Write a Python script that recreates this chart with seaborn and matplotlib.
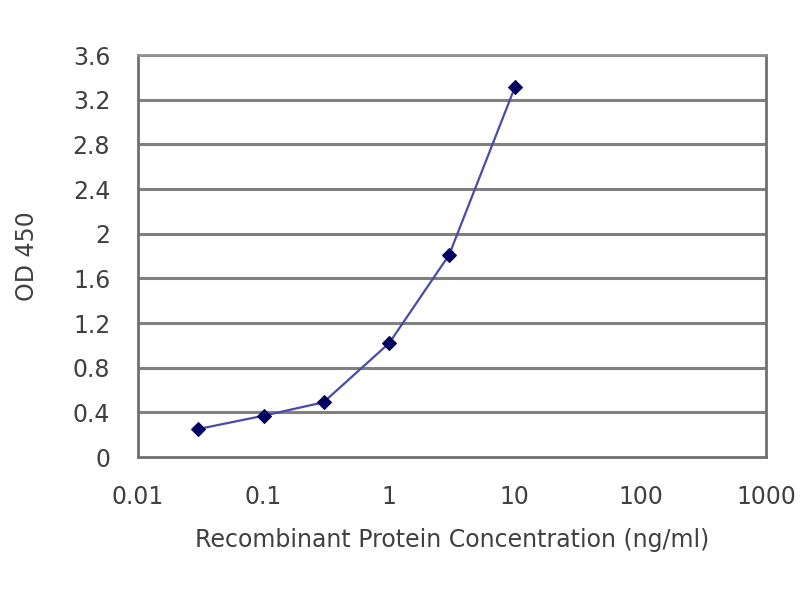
import matplotlib
matplotlib.use("Agg")
import matplotlib.pyplot as plt
import seaborn as sns
import pandas as pd
from matplotlib.ticker import FixedLocator, FixedFormatter, NullLocator

# readings from the standard curve
conc = [0.03, 0.1, 0.3, 1, 3, 10]
od450 = [0.25, 0.37, 0.49, 1.02, 1.81, 3.31]
x_ticks = [0.01, 0.1, 1, 10, 100, 1000]
x_labels = ["0.01", "0.1", "1", "10", "100", "1000"]
y_ticks = [0, 0.4, 0.8, 1.2, 1.6, 2, 2.4, 2.8, 3.2, 3.6]
y_labels = ["0", "0.4", "0.8", "1.2", "1.6", "2", "2.4", "2.8", "3.2", "3.6"]

df = pd.DataFrame({"conc": conc, "od": od450})

sns.set_style("white")
plt.rcParams["font.family"] = ["DejaVu Sans"]

fig = plt.figure(figsize=(8, 6), dpi=100)
ax = fig.add_axes([0.1725, 0.2383, 0.785, 0.67])

# grid lines
for y in y_ticks[1:]:
    ax.axhline(y, color="#808080", lw=2.2, zorder=1)

sns.lineplot(data=df, x="conc", y="od", ax=ax, color="#4a4aa8", lw=1.6,
             marker="D", markersize=7.5, markerfacecolor="#000060",
             markeredgecolor="#000060", zorder=3)

ax.set_xscale("log")
ax.set_xlim(0.01, 1000)
ax.set_ylim(0, 3.6)
ax.xaxis.set_major_locator(FixedLocator(x_ticks))
ax.xaxis.set_major_formatter(FixedFormatter(x_labels))
ax.xaxis.set_minor_locator(NullLocator())
ax.yaxis.set_major_locator(FixedLocator(y_ticks))
ax.yaxis.set_major_formatter(FixedFormatter(y_labels))

for s in ax.spines.values():
    s.set_color("#707070")
    s.set_linewidth(2)
ax.spines["top"].set_color("#909090")

ax.tick_params(axis="x", direction="in", length=5, width=1.5, color="#707070",
               labelsize=17, labelcolor="#404040", pad=20)
ax.tick_params(axis="y", direction="out", length=4, width=1.5, color="#707070",
               labelsize=17, labelcolor="#404040", pad=16)

ax.set_xlabel("Recombinant Protein Concentration (ng/ml)", fontsize=17,
              color="#404040", labelpad=14)
ax.set_ylabel("OD 450", fontsize=17, color="#404040", labelpad=24)

fig.savefig("out.png", dpi=100)
